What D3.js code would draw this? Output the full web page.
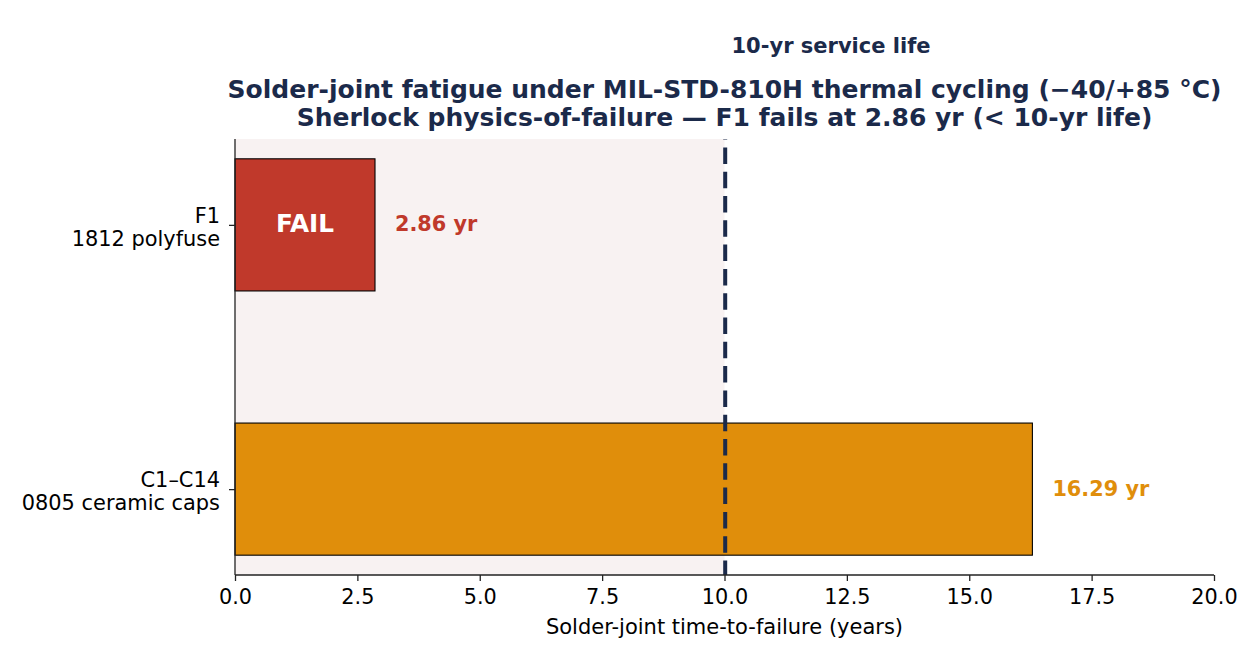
<!DOCTYPE html>
<html><head><meta charset="utf-8">
<script src="https://cdn.jsdelivr.net/npm/d3@7"></script>
<style>body{margin:0;background:#fff}svg{display:block;font-family:"DejaVu Sans",sans-serif}</style>
</head><body>
<svg id="c" width="1260" height="660"></svg>
<script>
const categories = ["C1–C14\n0805 ceramic caps", "F1\n1812 polyfuse"];
const values = [16.29, 2.86];
const barColors = ["#e08e0b", "#c0392b"];
const valueLabels = ["16.29 yr", "2.86 yr"];
const xTicks = [0, 2.5, 5, 7.5, 10, 12.5, 15, 17.5, 20];
const serviceLife = 10;
const titleLines = ["Solder-joint fatigue under MIL-STD-810H thermal cycling (−40/+85 °C)",
                    "Sherlock physics-of-failure — F1 fails at 2.86 yr (< 10-yr life)"];

const navy = "#1b2a4a";
const svg = d3.select("#c");
const L = 235, R = 1214, T = 139, B = 575;
const x = d3.scaleLinear().domain([0, 20]).range([L, R]);
const y = d3.scaleLinear().domain([-0.325, 1.325]).range([B, T]);
const barH = 0.5;

// shaded span
svg.append("rect").attr("x", x(0)).attr("y", T).attr("width", x(serviceLife) - x(0)).attr("height", B - T)
  .attr("fill", "#f8f2f2");

// bars
svg.selectAll(".bar").data(values).join("rect")
  .attr("x", x(0)).attr("y", (d, i) => y(i + barH / 2))
  .attr("width", d => x(d) - x(0)).attr("height", (d, i) => y(i - barH / 2) - y(i + barH / 2))
  .attr("fill", (d, i) => barColors[i]).attr("stroke", "#000").attr("stroke-width", 1.1);

// dashed line
svg.append("line").attr("x1", x(serviceLife) + 0.7).attr("x2", x(serviceLife) + 0.7).attr("y1", B).attr("y2", T)
  .attr("stroke", navy).attr("stroke-width", 4).attr("stroke-dasharray", "16.5,7.8").attr("stroke-dashoffset", 2);

// value labels
svg.selectAll(".vl").data(values).join("text")
  .attr("x", d => x(d) + 20).attr("y", (d, i) => y(i) + 6.5)
  .attr("fill", (d, i) => barColors[i]).attr("font-weight", "bold").attr("font-size", 20.8)
  .text((d, i) => valueLabels[i]);

// FAIL label
svg.append("text").attr("x", (x(0) + x(values[1])) / 2).attr("y", y(1) + 7.5)
  .attr("text-anchor", "middle").attr("fill", "#fff").attr("font-weight", "bold").attr("font-size", 24.7)
  .text("FAIL");

// x axis
const xa = svg.append("g").attr("transform", `translate(0,${B})`)
  .call(d3.axisBottom(x).tickValues(xTicks).tickFormat(d3.format(".1f")).tickSizeOuter(0).tickSize(6).tickPadding(8));
xa.select(".domain").attr("stroke", "#222").attr("stroke-width", 1.3).attr("d", `M${L},0H${R}`);
xa.selectAll(".tick line").attr("stroke", "#222").attr("stroke-width", 1.3);
xa.selectAll(".tick text").attr("font-size", 20.8).attr("fill", "#000").attr("font-family", "DejaVu Sans");

// y axis
const ya = svg.append("g").attr("transform", `translate(${L},0)`)
  .call(d3.axisLeft(y).tickValues([0, 1]).tickFormat("").tickSizeOuter(0).tickSize(6));
ya.select(".domain").attr("stroke", "#222").attr("stroke-width", 1.3).attr("d", `M0,${T}V${B}`);
ya.selectAll(".tick line").attr("stroke", "#222").attr("stroke-width", 1.3);

// category labels
categories.forEach((c, i) => {
  const lines = c.split("\n");
  const t = svg.append("text").attr("x", 220).attr("y", y(i) - 2.3).attr("text-anchor", "end")
    .attr("font-size", 20.9).attr("fill", "#000");
  lines.forEach((ln, j) => t.append("tspan").attr("x", 220).attr("dy", j ? 23.3 : 0).text(ln));
});

// axis label
svg.append("text").attr("x", (L + R) / 2).attr("y", 634).attr("text-anchor", "middle")
  .attr("font-size", 21).attr("fill", "#000").text("Solder-joint time-to-failure (years)");

// titles
titleLines.forEach((t, i) => svg.append("text").attr("x", (L + R) / 2).attr("y", 98 + i * 27.7)
  .attr("text-anchor", "middle").attr("font-weight", "bold").attr("font-size", 25).attr("fill", navy).text(t));

svg.append("text").attr("x", x(serviceLife) + 7).attr("y", 53.3).attr("font-weight", "bold")
  .attr("font-size", 21).attr("fill", navy).text("10-yr service life");
</script>
</body></html>
